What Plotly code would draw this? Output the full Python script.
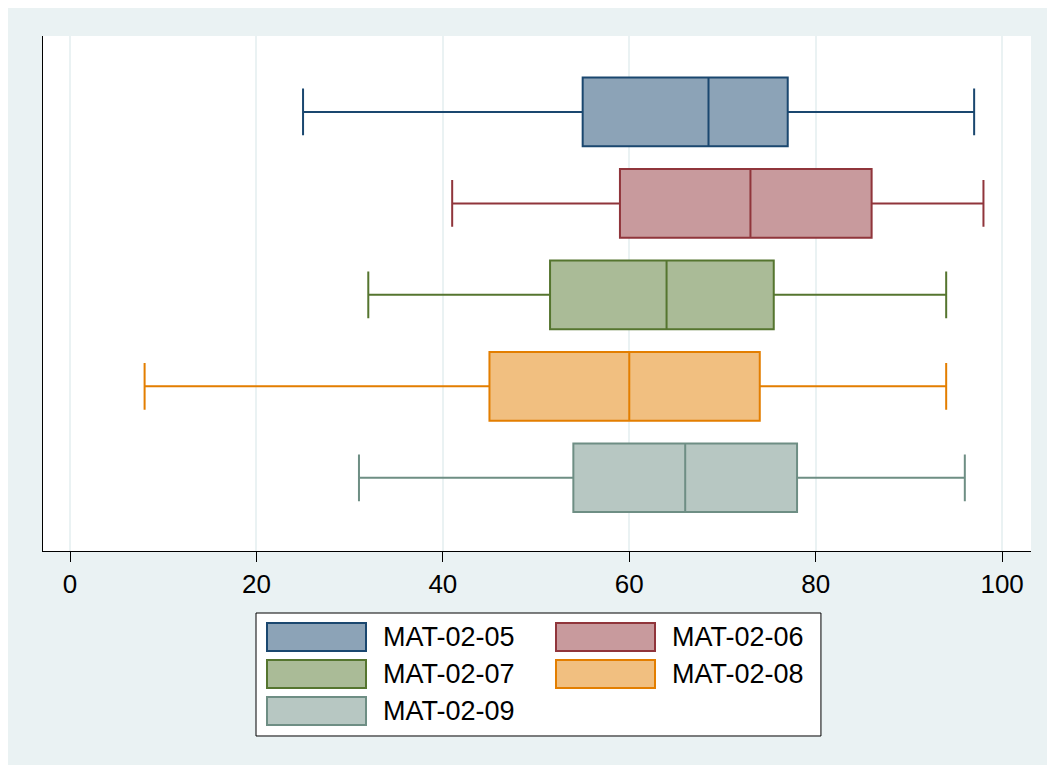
import plotly.graph_objects as go

names = ["MAT-02-05", "MAT-02-06", "MAT-02-07", "MAT-02-08", "MAT-02-09"]
lower = [25, 41, 32, 8, 31]
q1 = [55, 59, 51.5, 45, 54]
median = [68.5, 73, 64, 60, 66]
q3 = [77, 86, 75.5, 74, 78]
upper = [97, 98, 94, 94, 96]
line_colors = ["#1a476f", "#90353b", "#55752f", "#e37e00", "#6e8e84"]
fill_colors = ["#8ca3b7", "#c89a9d", "#aabb97", "#f1bf80", "#b7c7c2"]
tick_vals = [0, 20, 40, 60, 80, 100]
tick_text = ["0", "20", "40", "60", "80", "100"]

FONT = "Arial, Liberation Sans, Helvetica, sans-serif"

fig = go.Figure()
for i, n in enumerate(names):
    fig.add_trace(go.Box(
        name=n, y=[i], orientation="h",
        q1=[q1[i]], median=[median[i]], q3=[q3[i]],
        lowerfence=[lower[i]], upperfence=[upper[i]],
        fillcolor=fill_colors[i], line=dict(color=line_colors[i], width=2),
        width=0.75, whiskerwidth=0.68, boxpoints=False, showlegend=False,
        hoverinfo="x"))

# manual legend
shapes = []
annotations = []
bx0, bx1 = 0.2156, 0.7874
shapes.append(dict(type="rect", xref="paper", yref="paper", x0=bx0, x1=bx1,
                   y0=-0.3592, y1=-0.1204, line=dict(color="#000000", width=1),
                   fillcolor="white", layer="below"))
col_x = [(266 - 42) / 988, (555 - 42) / 988]
sw_w = 99 / 988
row_y = [636, 673, 710]
for i, n in enumerate(names):
    c, r = i % 2, i // 2
    yc = (550 - row_y[r]) / 515
    h = 14 / 515
    shapes.append(dict(type="rect", xref="paper", yref="paper",
                       x0=col_x[c], x1=col_x[c] + sw_w, y0=yc - h, y1=yc + h,
                       line=dict(color=line_colors[i], width=2),
                       fillcolor=fill_colors[i]))
    annotations.append(dict(xref="paper", yref="paper", x=col_x[c] + (114 / 988), y=yc,
                            text=n, showarrow=False, xanchor="left", yanchor="middle",
                            font=dict(family=FONT, size=27, color="black")))

fig.update_layout(
    width=1045, height=757,
    margin=dict(l=35, r=22, t=28, b=214),
    paper_bgcolor="#eaf2f3", plot_bgcolor="white",
    boxmode="overlay",
    shapes=shapes, annotations=annotations,
    font=dict(family=FONT, size=26, color="black"),
    xaxis=dict(range=[-2.9, 103.1], tickvals=tick_vals, ticktext=tick_text,
               showgrid=True, gridcolor="#eaf2f3", gridwidth=2,
               zeroline=False, showline=True, linecolor="black", linewidth=1,
               ticks="outside", ticklen=10, tickcolor="black",
               tickfont=dict(family=FONT, size=26, color="black")),
    yaxis=dict(range=[4.8, -0.83], showticklabels=False, showgrid=False,
               zeroline=False, showline=True, linecolor="black", linewidth=1,
               ticks=""),
)

fig.write_html("out.html")
